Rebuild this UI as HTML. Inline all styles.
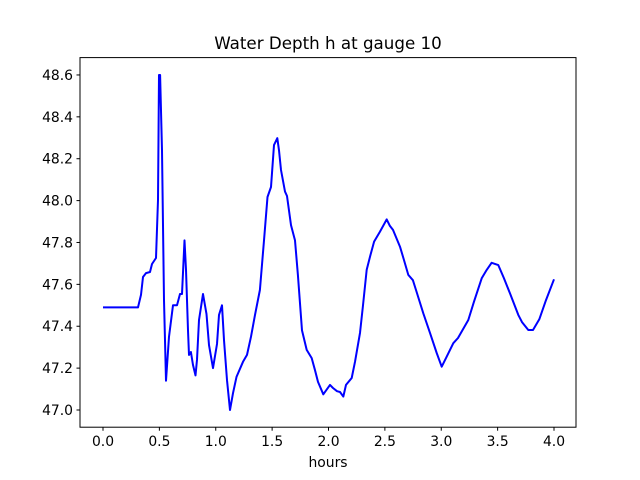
<!DOCTYPE html>
<html><head><meta charset="utf-8"><style>body{margin:0;background:#fff}svg{display:block;font-family:"DejaVu Sans","Liberation Sans",sans-serif}</style></head>
<body>
<svg id="chart" width="640" height="480">
<rect x="0" y="0" width="640" height="480" fill="#fff"/>
<text x="328" y="49" font-size="16.7" text-anchor="middle">Water Depth h at gauge 10</text>
<g id="plot"></g>
<rect x="80" y="57.6" width="496" height="369.6" fill="none" stroke="#000" stroke-width="1"/>
<text x="328" y="467" font-size="13.9" text-anchor="middle">hours</text>
</svg>
<script>
const tVals=[0,0.31,0.337,0.355,0.381,0.417,0.435,0.47,0.488,0.497,0.506,0.523,0.541,0.559,0.585,0.621,0.656,0.683,0.701,0.723,0.736,0.754,0.763,0.78,0.798,0.82,0.834,0.851,0.887,0.918,0.94,0.976,1.011,1.029,1.055,1.073,1.1,1.126,1.153,1.184,1.242,1.277,1.313,1.348,1.392,1.428,1.459,1.49,1.517,1.546,1.561,1.579,1.614,1.632,1.667,1.703,1.729,1.765,1.807,1.851,1.88,1.907,1.954,2.013,2.04,2.075,2.102,2.131,2.155,2.206,2.235,2.279,2.306,2.339,2.368,2.404,2.457,2.516,2.545,2.572,2.634,2.67,2.708,2.749,2.776,2.841,2.9,2.96,3.004,3.042,3.107,3.149,3.24,3.29,3.359,3.403,3.447,3.506,3.556,3.61,3.683,3.716,3.772,3.814,3.87,3.929,4.0];
const hVals=[47.49,47.49,47.55,47.635,47.654,47.659,47.697,47.726,48.003,48.6,48.6,48.24,47.525,47.14,47.35,47.5,47.5,47.554,47.554,47.81,47.67,47.38,47.263,47.277,47.215,47.165,47.24,47.43,47.554,47.458,47.31,47.2,47.315,47.454,47.5,47.334,47.143,47.0,47.08,47.158,47.23,47.263,47.35,47.454,47.573,47.81,48.017,48.065,48.265,48.298,48.24,48.146,48.043,48.022,47.883,47.81,47.645,47.38,47.287,47.248,47.19,47.134,47.075,47.12,47.105,47.09,47.086,47.064,47.12,47.153,47.23,47.368,47.5,47.67,47.732,47.804,47.852,47.91,47.879,47.86,47.78,47.716,47.645,47.62,47.573,47.462,47.368,47.272,47.207,47.248,47.319,47.344,47.43,47.516,47.629,47.669,47.703,47.692,47.63,47.557,47.454,47.42,47.382,47.382,47.433,47.525,47.624];
const xTicks=[0,0.5,1,1.5,2,2.5,3,3.5,4];
const xTickLabels=["0.0","0.5","1.0","1.5","2.0","2.5","3.0","3.5","4.0"];
const yTicks=[47,47.2,47.4,47.6,47.8,48,48.2,48.4,48.6];
const yTickLabels=["47.0","47.2","47.4","47.6","47.8","48.0","48.2","48.4","48.6"];
const NS="http://www.w3.org/2000/svg";
const X=t=>103+t*112.75;
const Y=h=>410-(h-47)*209.4;
const g=document.getElementById('plot');
function mk(tag,attrs){const e=document.createElementNS(NS,tag);for(const k in attrs)e.setAttribute(k,attrs[k]);g.appendChild(e);return e;}
xTicks.forEach((t,i)=>{
  const l=mk('line',{x1:X(t),x2:X(t),y1:427.2,y2:430.7,stroke:'#000'});
  
  
  const tx=mk('text',{x:X(t),y:446,'font-size':13.9,'text-anchor':'middle'});
  tx.textContent=xTickLabels[i];
  
  
});
yTicks.forEach((h,i)=>{
  const l=mk('line',{x1:76.5,x2:80,y1:Y(h),y2:Y(h),stroke:'#000'});
  
  
  const tx=mk('text',{x:73,y:Y(h)+5,'font-size':13.9,'text-anchor':'end'});
  tx.textContent=yTickLabels[i];
  
  
});
const pts=tVals.map((t,i)=>X(t).toFixed(1)+','+Y(hVals[i]).toFixed(1)).join(' ');
const pl=mk('polyline',{points:pts,fill:'none',stroke:'#0000ff','stroke-width':2,'stroke-linejoin':'round'});


</script>
</body></html>
